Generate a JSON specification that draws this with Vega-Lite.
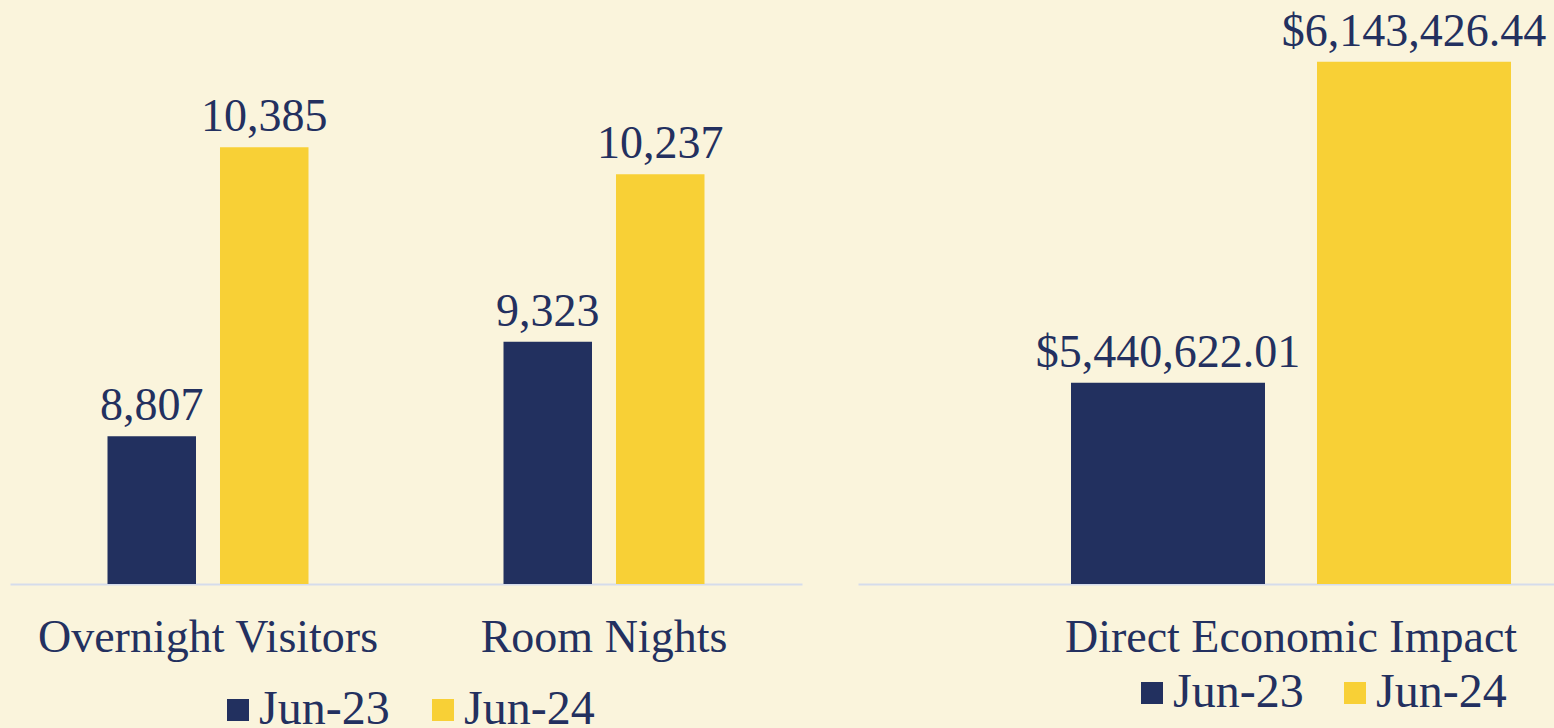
{
  "$schema": "https://vega.github.io/schema/vega-lite/v6.json",
  "background": "#FAF4DC",
  "padding": {"left": 10, "top": 0, "right": 0, "bottom": 0},
  "bounds": "flush",
  "spacing": 56,
  "config": {
    "view": {"stroke": null},
    "font": "Liberation Serif",
    "axis": {"labelFont": "Liberation Serif"},
    "legend": {"labelFont": "Liberation Serif"}
  },
  "resolve": {
    "scale": {"x": "independent", "y": "independent", "xOffset": "independent", "color": "independent"},
    "legend": {"color": "independent"}
  },
  "hconcat": [
    {
      "width": 792,
      "height": 584,
      "data": {"values": [
        {"metric": "Overnight Visitors", "period": "Jun-23", "value": 8807},
        {"metric": "Overnight Visitors", "period": "Jun-24", "value": 10385},
        {"metric": "Room Nights", "period": "Jun-23", "value": 9323},
        {"metric": "Room Nights", "period": "Jun-24", "value": 10237}
      ]},
      "encoding": {
        "x": {"field": "metric", "type": "nominal", "sort": ["Overnight Visitors", "Room Nights"],
          "scale": {"paddingInner": 0, "paddingOuter": 0},
          "axis": {"title": null, "labelAngle": 0, "labelFontSize": 46, "labelColor": "#23305F", "labelPadding": 31, "labelLimit": 1000,
            "ticks": false, "tickSize": 0, "domainColor": "#D5DCEB", "domainWidth": 2, "grid": false}},
        "xOffset": {"field": "period", "type": "nominal", "sort": ["Jun-23", "Jun-24"],
          "scale": {"paddingInner": 0.2133, "paddingOuter": 0.8667}},
        "y": {"field": "value", "type": "quantitative", "scale": {"domain": [8000, 11189], "nice": false, "zero": false}, "axis": null}
      },
      "layer": [
        {
          "mark": {"type": "bar", "clip": true},
          "encoding": {
            "color": {"field": "period", "type": "nominal",
              "scale": {"domain": ["Jun-23", "Jun-24"], "range": ["#22305F", "#F8D036"]},
              "legend": {"orient": "none", "legendX": 204, "legendY": 686, "direction": "horizontal", "title": null,
                "symbolType": "square", "symbolSize": 484, "symbolStrokeWidth": 0, "symbolOpacity": 1,
                "labelFontSize": 48, "labelOffset": -3, "columnPadding": 29, "labelColor": "#23305F", "padding": 0}}
          }
        },
        {
          "mark": {"type": "text", "baseline": "alphabetic", "dy": -16, "fontSize": 46, "color": "#23305F"},
          "encoding": {"text": {"field": "value", "type": "quantitative", "format": ","}}
        }
      ]
    },
    {
      "width": 696,
      "height": 584,
      "data": {"values": [
        {"metric": "Direct Economic Impact", "period": "Jun-23", "value": 5440622.01},
        {"metric": "Direct Economic Impact", "period": "Jun-24", "value": 6143426.44}
      ]},
      "encoding": {
        "x": {"field": "metric", "type": "nominal",
          "scale": {"paddingInner": 0, "paddingOuter": 0.29091, "align": 0.83203},
          "axis": {"title": null, "labelAngle": 0, "labelFontSize": 46, "labelColor": "#23305F", "labelPadding": 31, "labelLimit": 1000,
            "ticks": false, "tickSize": 0, "domainColor": "#D5DCEB", "domainWidth": 2, "grid": false}},
        "xOffset": {"field": "period", "type": "nominal", "sort": ["Jun-23", "Jun-24"],
          "scale": {"paddingInner": 0.2114, "paddingOuter": 0}},
        "y": {"field": "value", "type": "quantitative", "scale": {"domain": [5000000, 6278600], "nice": false, "zero": false}, "axis": null}
      },
      "layer": [
        {
          "mark": {"type": "bar", "clip": true},
          "encoding": {
            "color": {"field": "period", "type": "nominal",
              "scale": {"domain": ["Jun-23", "Jun-24"], "range": ["#22305F", "#F8D036"]},
              "legend": {"orient": "none", "legendX": 270, "legendY": 669, "direction": "horizontal", "title": null,
                "symbolType": "square", "symbolSize": 484, "symbolStrokeWidth": 0, "symbolOpacity": 1,
                "labelFontSize": 48, "labelOffset": -3, "columnPadding": 27, "labelColor": "#23305F", "padding": 0}}
          }
        },
        {
          "mark": {"type": "text", "baseline": "alphabetic", "dy": -16, "fontSize": 46, "color": "#23305F"},
          "encoding": {"text": {"field": "value", "type": "quantitative", "format": "$,.2f"}}
        }
      ]
    }
  ]
}
